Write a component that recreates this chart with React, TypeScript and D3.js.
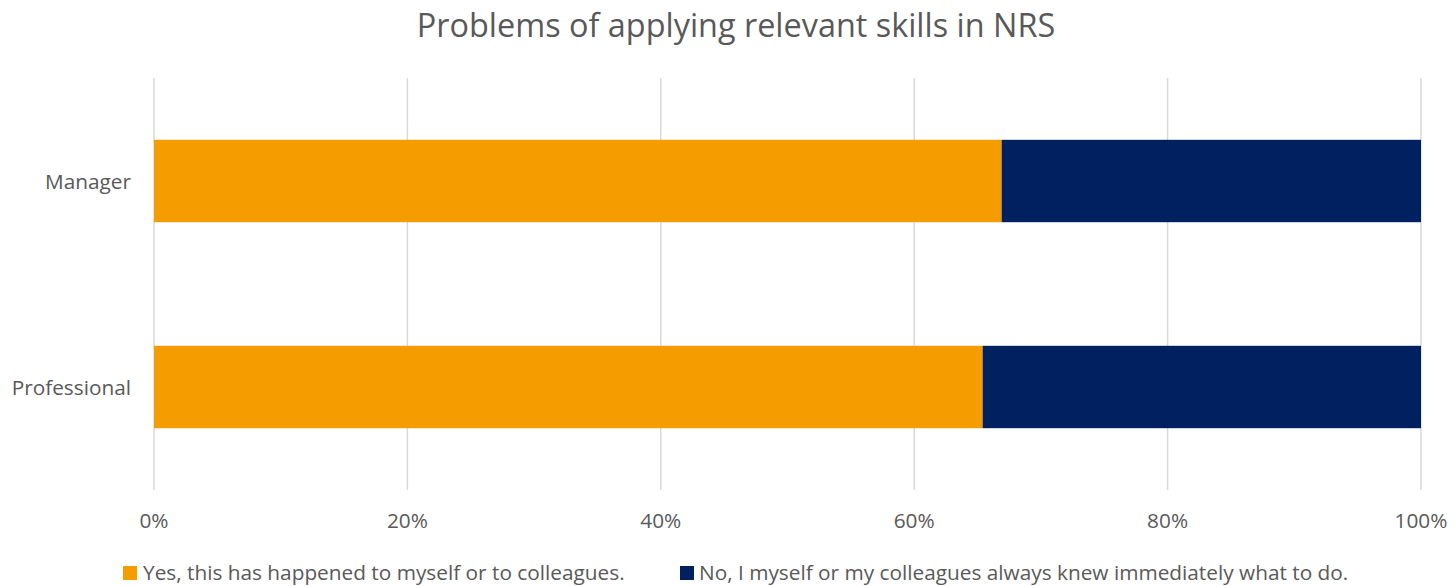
import React from "react";
import * as d3 from "d3";

const categories = ["Manager", "Professional"];
const yesValues = [0.669, 0.654];
const noValues = [0.331, 0.346];
const seriesNames = [
  "Yes, this has happened to myself or to colleagues.",
  "No, I myself or my colleagues always knew immediately what to do.",
];
const seriesColors = ["#F59D00", "#002060"];
const tickValues = [0, 0.2, 0.4, 0.6, 0.8, 1.0];

const W = 1456;
const H = 586;
const FONT = "'Open Sans', 'Liberation Sans', sans-serif";
const FS = 20.8;

export default function App() {
  const x = d3.scaleLinear().domain([0, 1]).range([154, 1421]);
  const y = d3.scaleBand().domain(categories).range([78, 490]).paddingInner(0.6).paddingOuter(0.3);
  const fmt = d3.format(".0%");
  return (
    <svg width={W} height={H} style={{ position: "absolute", left: 0, top: 0 }} fontFamily={FONT}>
      <rect width={W} height={H} fill="#fff" />
      <text x={736} y={37} textAnchor="middle" fontSize={32.4} fill="#595959">
        Problems of applying relevant skills in NRS
      </text>
      {tickValues.map((t) => (
        <g key={t}>
          <line x1={x(t)} x2={x(t)} y1={78} y2={490} stroke="#D9D9D9" strokeWidth={1.5} />
          <text x={x(t)} y={528} textAnchor="middle" fontSize={FS} fill="#595959">
            {fmt(t)}
          </text>
        </g>
      ))}
      {categories.map((c, i) => (
        <g key={c}>
          <rect x={x(0)} y={y(c)} width={x(yesValues[i]) - x(0)} height={y.bandwidth()} fill={seriesColors[0]} />
          <rect x={x(yesValues[i])} y={y(c)} width={x(yesValues[i] + noValues[i]) - x(yesValues[i])} height={y.bandwidth()} fill={seriesColors[1]} />
          <text x={131} y={(y(c) as number) + y.bandwidth() / 2 + 8} textAnchor="end" fontSize={FS} fill="#595959">
            {c}
          </text>
        </g>
      ))}
      <g>
        <rect x={123} y={566} width={14} height={14} fill={seriesColors[0]} />
        <text x={143} y={580} fontSize={FS} fill="#595959">{seriesNames[0]}</text>
        <rect x={680} y={566} width={14} height={14} fill={seriesColors[1]} />
        <text x={699} y={580} fontSize={FS} fill="#595959">{seriesNames[1]}</text>
      </g>
    </svg>
  );
}
